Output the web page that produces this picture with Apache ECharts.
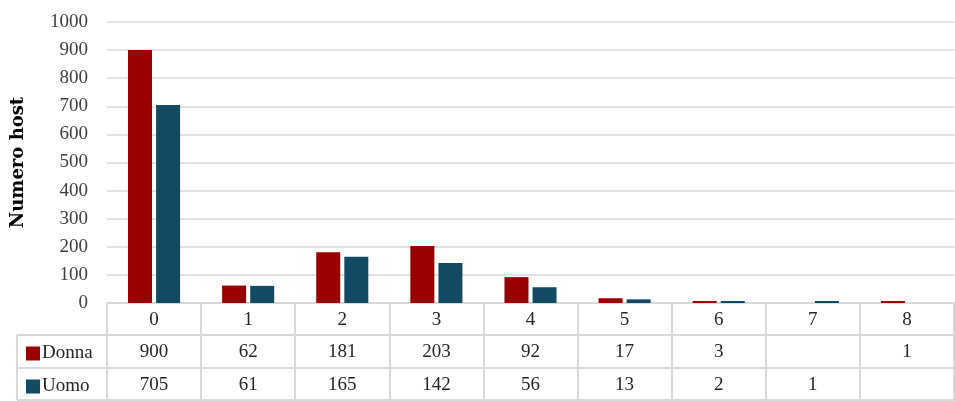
<!DOCTYPE html>
<html>
<head>
<meta charset="utf-8">
<script src="https://cdn.jsdelivr.net/npm/echarts@6/dist/echarts.min.js"></script>
<style>
  html, body { margin: 0; padding: 0; background: #fff; }
  #box { width: 955px; height: 401px; }
</style>
</head>
<body>
<div id="box"></div>
<script>
  // dati
  var categorie = ['0', '1', '2', '3', '4', '5', '6', '7', '8'];
  var donna = [900, 62, 181, 203, 92, 17, 3, null, 1];
  var uomo = [705, 61, 165, 142, 56, 13, 2, 1, null];
  var yTicks = [0, 100, 200, 300, 400, 500, 600, 700, 800, 900, 1000];

  var font = '"Liberation Serif", "DejaVu Serif", serif';
  var linea = '#d9d9d9';
  var testo = '#262626';

  var myChart = echarts.init(document.getElementById('box'));

  // riga della tabella sotto l'asse
  function rigaTabella(valori, offset, showTick) {
    return {
      type: 'category',
      data: categorie,
      position: 'bottom',
      offset: offset,
      gridIndex: 0,
      axisLine: { show: true, lineStyle: { color: linea, width: 2 } },
      axisTick: { show: showTick, length: 97, interval: 0, lineStyle: { color: linea, width: 2 } },
      axisLabel: {
        show: valori !== null,
        interval: 0,
        margin: 8,
        fontFamily: font,
        fontSize: 19,
        color: testo,
        formatter: function (v, i) {
          if (valori === null) return '';
          var x = valori[i];
          return x === null || x === undefined ? '' : String(x);
        }
      },
      splitLine: { show: false }
    };
  }

  function voceLegenda(nome, top) {
    return {
      orient: 'vertical',
      left: 21,
      top: top,
      itemWidth: 14,
      itemHeight: 14,
      itemGap: 4,
      icon: 'rect',
      textStyle: { fontFamily: font, fontSize: 19, color: testo, padding: [0, 0, 0, -3] },
      data: [nome]
    };
  }

  var option = {
    animation: false,
    grid: { left: 107, right: 1, top: 22, bottom: 98, containLabel: false },
    legend: [voceLegenda('Donna', 339), voceLegenda('Uomo', 372)],
    xAxis: [
      rigaTabella(categorie, 0, true),
      rigaTabella(donna, 32, false),
      rigaTabella(uomo, 65, false),
      rigaTabella(null, 97, false)
    ],
    yAxis: {
      type: 'value',
      min: yTicks[0],
      max: yTicks[yTicks.length - 1],
      interval: 100,
      name: 'Numero host',
      nameLocation: 'middle',
      nameGap: 80,
      nameTextStyle: { fontFamily: '"DejaVu Serif", serif', fontSize: 18, fontWeight: 'bold', color: '#000' },
      axisLine: { show: false },
      axisTick: { show: false },
      axisLabel: {
        margin: 19, fontFamily: font, fontSize: 19, color: '#404040',
        formatter: function (v) { return String(v); }
      },
      splitLine: { lineStyle: { color: linea, width: 1.5 } }
    },
    series: [
      {
        name: 'Donna',
        type: 'bar',
        xAxisIndex: 0,
        data: donna,
        barWidth: 24,
        barGap: '17%',
        barMinHeight: 2,
        itemStyle: { color: '#990000' }
      },
      {
        name: 'Uomo',
        type: 'bar',
        xAxisIndex: 0,
        data: uomo,
        barWidth: 24,
        barGap: '17%',
        barMinHeight: 2,
        itemStyle: { color: '#134A63' }
      }
    ],
    graphic: [
      // bordi della colonna legenda
      { type: 'line', shape: { x1: 17, y1: 335, x2: 107, y2: 335 }, style: { stroke: linea, lineWidth: 2 } },
      { type: 'line', shape: { x1: 17, y1: 368, x2: 107, y2: 368 }, style: { stroke: linea, lineWidth: 2 } },
      { type: 'line', shape: { x1: 17, y1: 400, x2: 107, y2: 400 }, style: { stroke: linea, lineWidth: 2 } },
      { type: 'line', shape: { x1: 17, y1: 335, x2: 17, y2: 400 }, style: { stroke: linea, lineWidth: 2 } }
    ]
  };
  myChart.setOption(option);
</script>
</body>
</html>
